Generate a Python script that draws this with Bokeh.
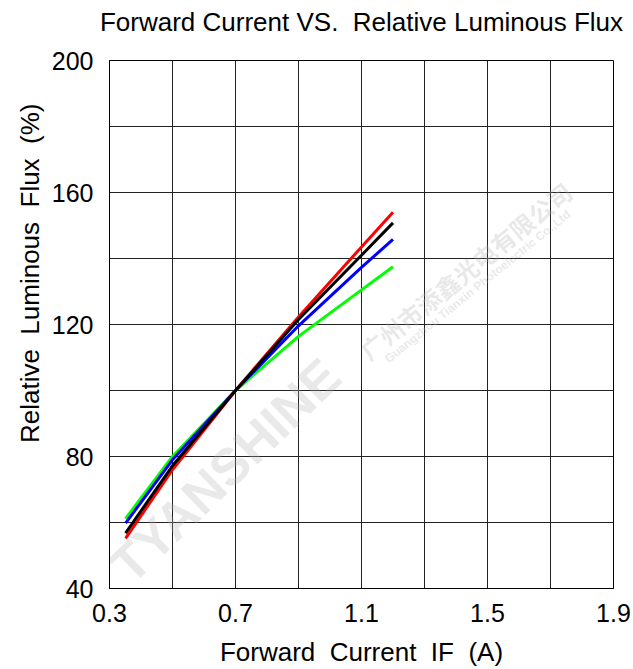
import math
from bokeh.plotting import figure
from bokeh.models import FixedTicker, Range1d, Title, Label, LinearAxis
from bokeh.embed import file_html
from bokeh.resources import INLINE

# ---- data ----
current_a = [0.351, 0.5, 0.7, 0.9, 1.1, 1.2]
flux_red = [55.2, 76.0, 100.0, 122.3, 143.5, 154.0]
flux_black = [56.8, 77.2, 100.0, 121.5, 141.0, 150.8]
flux_blue = [59.8, 79.0, 100.0, 119.6, 137.3, 145.8]
flux_green = [61.2, 80.0, 100.0, 116.4, 130.5, 137.5]

x_tick_values = [0.3, 0.7, 1.1, 1.5, 1.9]
x_grid_values = [0.3, 0.5, 0.7, 0.9, 1.1, 1.3, 1.5, 1.7, 1.9]
y_tick_values = [40, 80, 120, 160, 200]
y_grid_values = [40, 60, 80, 100, 120, 140, 160, 180, 200]

SP = " \u00a0"  # a visible double space
title_text = "Forward Current VS." + SP + "Relative Luminous Flux"
x_label = SP.join(["Forward", "Current", "IF", "(A)"])
y_label = SP.join(["Relative", "Luminous", "Flux", "(%)"])
wm_brand = "TYANSHINE"
wm_company_cn = "广州市添鑫光电有限公司"
wm_company_en = "Guangzhou Tianxin Photoelectric Co.,Ltd"

FONT = "Liberation Sans"

p = figure(width=633, height=669,
           min_border_left=109, min_border_right=20,
           min_border_top=60, min_border_bottom=76,
           x_range=Range1d(0.3, 1.9), y_range=Range1d(40, 200),
           output_backend="svg", toolbar_location=None)

p.outline_line_color = "black"
p.outline_line_width = 1
p.background_fill_color = "white"
p.border_fill_color = "white"

# grid
p.xgrid.ticker = FixedTicker(ticks=x_grid_values)
p.ygrid.ticker = FixedTicker(ticks=y_grid_values)
for g in (p.xgrid, p.ygrid):
    g.grid_line_color = "#222222"
    g.grid_line_width = 1
    g.grid_line_alpha = 1.0

# axes
p.xaxis.ticker = FixedTicker(ticks=x_tick_values)
p.yaxis.ticker = FixedTicker(ticks=y_tick_values)
p.xaxis.major_label_overrides = {v: f"{v:.1f}" for v in x_tick_values}
for ax in (p.xaxis, p.yaxis):
    ax.axis_line_color = "black"
    ax.major_tick_in = 0
    ax.major_tick_out = 0
    ax.minor_tick_in = 0
    ax.minor_tick_out = 0
    ax.major_label_text_font = FONT
    ax.major_label_text_font_size = "25px"
    ax.major_label_text_color = "black"
    ax.axis_label_text_font = FONT
    ax.axis_label_text_font_size = "26px"
    ax.axis_label_text_font_style = "normal"
    ax.axis_label_text_color = "black"

p.xaxis.major_label_standoff = 15
p.yaxis.major_label_standoff = 16
p.xaxis.axis_label = x_label
p.xaxis.axis_label_standoff = 12

# chart title: carried by a tick-less axis above the frame
top_axis = LinearAxis(ticker=FixedTicker(ticks=[]), axis_label=title_text,
                      axis_line_color=None, major_tick_in=0, major_tick_out=0,
                      minor_tick_in=0, minor_tick_out=0,
                      major_label_standoff=0,
                      axis_label_standoff=24,
                      axis_label_text_font=FONT,
                      axis_label_text_font_size="26px",
                      axis_label_text_font_style="normal",
                      axis_label_text_color="black")
p.add_layout(top_axis, "above")

# vertical label on the left, shifted upward like the reference
p.add_layout(Title(text=y_label, align="right", offset=43,
                   text_font=FONT, text_font_size="26px",
                   text_font_style="normal", text_color="black",
                   standoff=7), "left")

# faint watermark behind the curves
wm_style = dict(x_units="screen", y_units="screen", text_align="center",
                text_baseline="middle", text_font_style="bold",
                text_color="#b0b0b0", text_alpha=0.28, level="underlay")
p.add_layout(Label(x=116, y=118, text=wm_brand, angle=math.radians(44),
                   text_font=FONT, text_font_size="52px", **wm_style))
p.add_layout(Label(x=356, y=318, text=wm_company_cn, angle=math.radians(39),
                   text_font="Noto Sans CJK SC", text_font_size="24px",
                   **wm_style))
p.add_layout(Label(x=368, y=302, text=wm_company_en, angle=math.radians(39),
                   text_font=FONT, text_font_size="12px", **wm_style))

# curves
series = [(flux_green, "#00FF00"), (flux_blue, "#0000FF"),
          (flux_red, "#FF0000"), (flux_black, "#000000")]
for ys, col in series:
    p.line(current_a, ys, line_color=col, line_width=3)

open("out.html", "w").write(file_html(p, INLINE))
